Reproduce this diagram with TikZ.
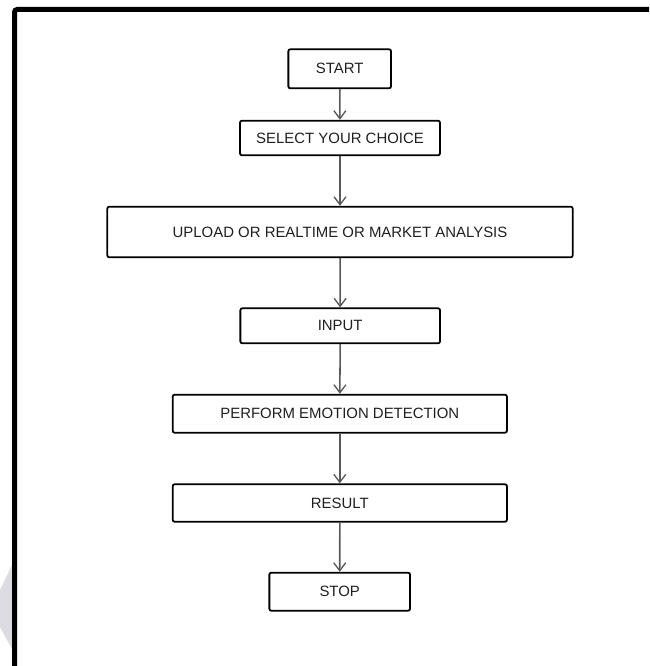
\documentclass[tikz,border=0pt]{standalone}
\usepackage{fontspec}
\setmainfont{Liberation Sans}
\usetikzlibrary{arrows.meta}
\begin{document}
\begin{tikzpicture}[x=0.75pt,y=-0.75pt,
  box/.style={draw=black, line width=1.35pt, rounded corners=1.5pt, fill=white,
    inner sep=0pt, font=\fontsize{11.2pt}{13pt}\selectfont, text=black!88},
  flow/.style={draw=black!65, line width=1.15pt, -{Straight Barb[length=6pt,width=9pt,line width=1pt]}}]
\useasboundingbox (0,0) rectangle (649,666);
\fill[white] (0,0) rectangle (649,666);
% faint watermark shape at the left edge
\fill[blue!10!gray!25] (12,565) -- (0,590) -- (0,627) -- (12,649) -- cycle;
% page border
\draw[line width=5*0.75pt, rounded corners=2pt] (14.5,666) -- (14.5,9.5) -- (649,9.5);
% boxes
\node[box, minimum width=102.7*0.75pt, minimum height=39*0.75pt] (start) at (339.7,68.8) {START};
\node[box, minimum width=200*0.75pt, minimum height=34.6*0.75pt] (select) at (340,138) {SELECT YOUR CHOICE};
\node[box, minimum width=465.4*0.75pt, minimum height=50.6*0.75pt] (upload) at (340,232) {UPLOAD OR REALTIME OR MARKET ANALYSIS};
\node[box, minimum width=199.7*0.75pt, minimum height=35*0.75pt] (input) at (340.2,325.8) {INPUT};
\node[box, minimum width=334.3*0.75pt, minimum height=38*0.75pt] (perform) at (339.8,413.7) {PERFORM EMOTION DETECTION};
\node[box, minimum width=334.3*0.75pt, minimum height=37.4*0.75pt] (result) at (339.8,503) {RESULT};
\node[box, minimum width=140.7*0.75pt, minimum height=38*0.75pt] (stop) at (339.7,591.7) {STOP};
% connectors
\draw[flow] (start) -- (select);
\draw[flow] (select) -- (upload);
\draw[flow] (upload) -- (input);
\draw[flow] (input) -- (perform);
\draw[flow] (perform) -- (result);
\draw[flow] (result) -- (stop);
\end{tikzpicture}
\end{document}
